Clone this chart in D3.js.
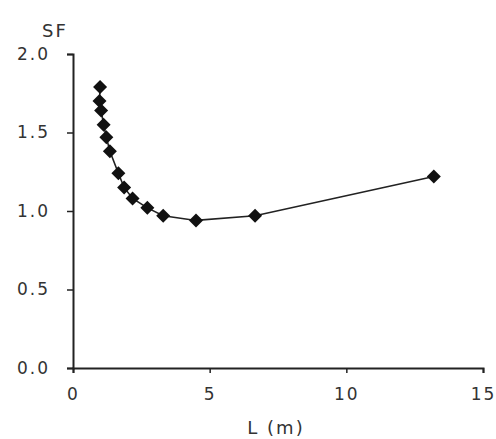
<!DOCTYPE html>
<html><head><meta charset="utf-8">
<script src="https://cdn.jsdelivr.net/npm/d3@7"></script>
<style>body{margin:0;background:#fff}svg{display:block}text{font-family:"DejaVu Sans",sans-serif;fill:#333}</style>
</head><body><svg id="c" width="496" height="439"></svg>
<script>
const L  = [0.99, 0.97, 1.03, 1.12, 1.22, 1.35, 1.66, 1.87, 2.18, 2.72, 3.30, 4.50, 6.66, 13.2];
const SF = [1.79, 1.70, 1.64, 1.55, 1.47, 1.38, 1.24, 1.15, 1.08, 1.02, 0.97, 0.94, 0.97, 1.22];
const xTicks = [0, 5, 10, 15];
const yTicks = [0.0, 0.5, 1.0, 1.5, 2.0];
const yTickLabels = ["0.0", "0.5", "1.0", "1.5", "2.0"];

const svg = d3.select("#c");
const x = d3.scaleLinear().domain([0, 15]).range([73, 483]);
const y = d3.scaleLinear().domain([0, 2]).range([368, 54]);

const xa = svg.append("g").attr("transform", `translate(0,${y(0)})`)
  .call(d3.axisBottom(x).tickValues(xTicks).tickFormat(d3.format("d")).tickSize(5).tickPadding(15));
const ya = svg.append("g").attr("transform", `translate(${x(0)},0)`)
  .call(d3.axisLeft(y).tickValues(yTicks).tickFormat((d, i) => yTickLabels[i]).tickSize(6).tickPadding(17));
[xa, ya].forEach(a => {
  a.select(".domain").attr("stroke", "#222").attr("stroke-width", 2);
  a.selectAll(".tick line").attr("stroke", "#222").attr("stroke-width", 1.5);
  a.selectAll("text").style("font-size", "17px").style("letter-spacing", "2px").attr("fill", "#333");
});

const pts = L.map((d, i) => [d, SF[i]]);
svg.append("path").datum(pts)
  .attr("d", d3.line().x(d => x(d[0])).y(d => y(d[1])))
  .attr("fill", "none").attr("stroke", "#222").attr("stroke-width", 1.6);

svg.append("g").selectAll("path").data(pts).join("path")
  .attr("transform", d => `translate(${x(d[0])},${y(d[1])})`)
  .attr("d", "M0,-7L7,0L0,7L-7,0Z")
  .attr("fill", "#111");

svg.append("text").attr("x", 42).attr("y", 37).style("font-size", "18px").style("letter-spacing", "2px").text("SF");
svg.append("text").attr("x", 276).attr("y", 434).attr("text-anchor", "middle").style("font-size", "18px").style("letter-spacing", "2px").text("L (m)");
</script></body></html>
